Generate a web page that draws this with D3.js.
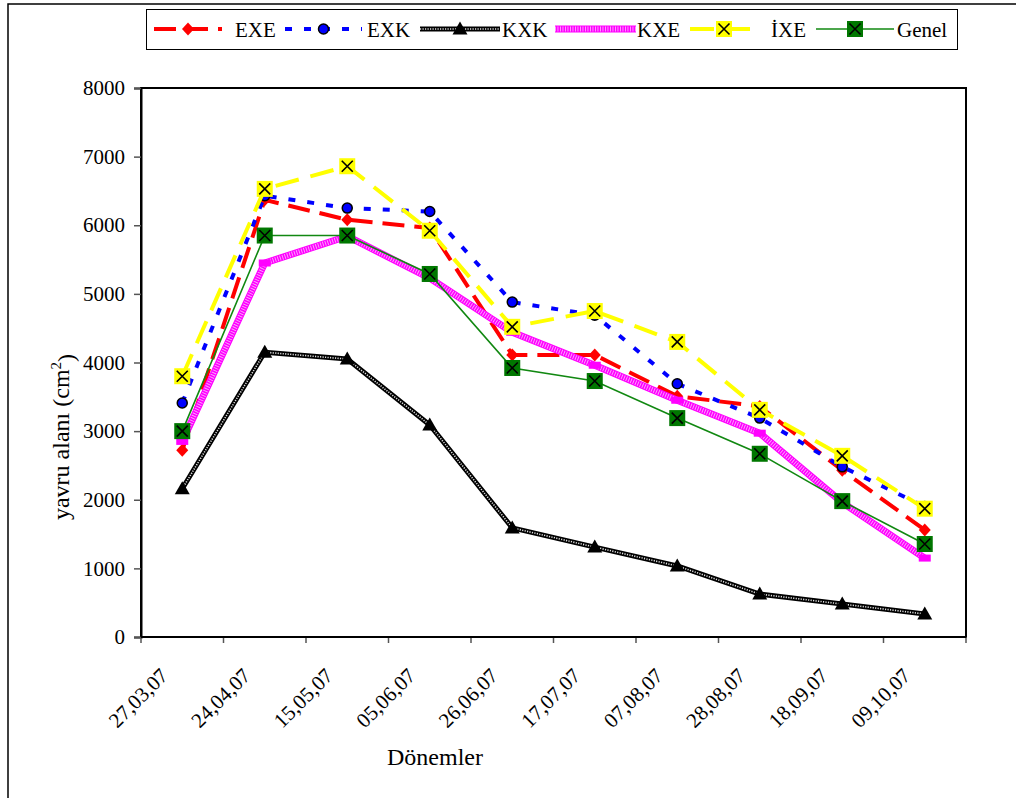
<!DOCTYPE html>
<html>
<head>
<meta charset="utf-8">
<script src="https://cdn.jsdelivr.net/npm/d3@7"></script>
<style>
  body { margin: 0; background: #fff; }
  svg { display: block; }
  text { font-family: "Liberation Serif", "Times New Roman", serif; fill: #000; }
</style>
</head>
<body>
<svg id="chart" width="1016" height="798"></svg>
<script>
// Sampling periods (dd,mm,yy)
const periods = ["27,03,07", "24,04,07", "15,05,07", "05,06,07", "26,06,07",
                 "17,07,07", "07,08,07", "28,08,07", "18,09,07", "09,10,07"];

// Brood area (cm²) per group
const exe   = [2720, 6370, 6080, 5960, 4110, 4110, 3510, 3360, 2430, 1560];
const exk   = [3410, 6430, 6250, 6200, 4880, 4690, 3690, 3190, 2480, 1900];
const kxk   = [2160, 4150, 4050, 3090, 1590, 1310, 1035,  625,  480,  335];
const kxe   = [2850, 5450, 5840, 5230, 4440, 3960, 3450, 2970, 1960, 1150];
const ixe   = [3800, 6530, 6860, 5920, 4520, 4750, 4300, 3310, 2640, 1870];
const genel = [3000, 5850, 5850, 5290, 3920, 3730, 3190, 2670, 1980, 1355];

const seriesNames = ["EXE", "EXK", "KXK", "KXE", "İXE", "Genel"];
const yTicks = [0, 1000, 2000, 3000, 4000, 5000, 6000, 7000, 8000];

const svg = d3.select("#chart");

// outer chart frame (only top and left edges fall inside the page)
svg.append("path")
  .attr("d", "M8,798 L8,4 L1016,4")
  .attr("fill", "none").attr("stroke", "#000").attr("stroke-width", 1.5);

const plot = { left: 141, right: 966, top: 88, bottom: 637 };

const x = d3.scaleBand().domain(periods).range([plot.left, plot.right]).padding(0);
const y = d3.scaleLinear().domain([0, 8000]).range([plot.bottom, plot.top]);
const cx = d => x(d) + x.bandwidth() / 2;

// plot frame
svg.append("rect")
  .attr("x", plot.left).attr("y", plot.top)
  .attr("width", plot.right - plot.left).attr("height", plot.bottom - plot.top)
  .attr("fill", "#fff").attr("stroke", "#000").attr("stroke-width", 2);

// y axis
const yAxis = svg.append("g")
  .attr("transform", `translate(${plot.left},0)`)
  .call(d3.axisLeft(y).tickValues(yTicks).tickSize(7).tickPadding(9).tickFormat(d3.format("d")));
yAxis.select(".domain").attr("stroke", "#000").attr("stroke-width", 2);
yAxis.selectAll(".tick line").attr("stroke", "#555").attr("stroke-width", 1.5);
yAxis.selectAll(".tick text")
  .style("font-family", '"Liberation Serif", "Times New Roman", serif')
  .style("font-size", "21px").attr("fill", "#000");

// x axis: ticks on category boundaries, labels centred under categories
const boundaries = periods.map(p => x(p)).concat([plot.right]);
svg.append("g").selectAll("line").data(boundaries).join("line")
  .attr("x1", d => d).attr("x2", d => d)
  .attr("y1", plot.bottom).attr("y2", plot.bottom + 6)
  .attr("stroke", "#555").attr("stroke-width", 1.5);
svg.append("line")
  .attr("x1", plot.left).attr("x2", plot.right)
  .attr("y1", plot.bottom).attr("y2", plot.bottom)
  .attr("stroke", "#000").attr("stroke-width", 2);

svg.append("g").selectAll("text").data(periods).join("text")
  .attr("transform", d => `translate(${cx(d) - 13},${plot.bottom + 40}) rotate(-45)`)
  .attr("text-anchor", "end")
  .style("font-size", "21px")
  .text(d => d);

// axis titles
svg.append("text")
  .attr("x", 435).attr("y", 765)
  .attr("text-anchor", "middle")
  .style("font-size", "24px")
  .text("Dönemler");

const yTitle = svg.append("text")
  .attr("transform", "translate(69,437) rotate(-90)")
  .attr("text-anchor", "middle")
  .style("font-size", "24px");
yTitle.append("tspan").text("yavru alanı (cm");
yTitle.append("tspan").attr("dy", "-0.55em").style("font-size", "15px").text("2");
yTitle.append("tspan").attr("dy", "0.55em").text(")");

// marker painters
const markers = {
  diamond: (g, color) => g.append("path").attr("d", "M0,-6.5L6,0L0,6.5L-6,0Z").attr("fill", color),
  circle: (g, color) => g.append("circle").attr("r", 5).attr("fill", color)
                          .attr("stroke", "#000").attr("stroke-width", 1.5),
  triangle: (g, color) => g.append("path").attr("d", "M0,-7.5L7.5,5.5L-7.5,5.5Z").attr("fill", color),
  dash: (g, color) => g.append("rect").attr("x", -6).attr("y", -3.5).attr("width", 12).attr("height", 7).attr("fill", color),
  xbox: (g, color) => {
    g.append("rect").attr("x", -8).attr("y", -8).attr("width", 16).attr("height", 16).attr("fill", color);
    g.append("path").attr("d", "M-5.5,-5.5L5.5,5.5M5.5,-5.5L-5.5,5.5")
      .attr("stroke", "#000").attr("stroke-width", 1.6);
  }
};

// line painters: some groups use a hatched (textured) stroke
function strokeLine(g, d, s) {
  if (s.hatch === "black") {
    g.append("path").attr("d", d).attr("fill", "none")
      .attr("stroke", "#000").attr("stroke-width", 5).attr("stroke-linejoin", "round");
    g.append("path").attr("d", d).attr("fill", "none")
      .attr("stroke", "#ddd").attr("stroke-width", 1.6).attr("stroke-dasharray", "1.2,1.3");
  } else if (s.hatch === "magenta") {
    g.append("path").attr("d", d).attr("fill", "none")
      .attr("stroke", "#ff00ff").attr("stroke-width", 7).attr("stroke-linejoin", "round");
    g.append("path").attr("d", d).attr("fill", "none")
      .attr("stroke", "#fff").attr("stroke-opacity", 0.65).attr("stroke-width", 5)
      .attr("stroke-dasharray", "0.9,1.6");
  } else {
    g.append("path").attr("d", d).attr("fill", "none")
      .attr("stroke", s.color).attr("stroke-width", s.width)
      .attr("stroke-dasharray", s.dash || null);
  }
}

const series = [
  { name: seriesNames[0], values: exe,   color: "#ff0000", width: 4,   dash: "22,10", marker: "diamond",  mcolor: "#ff0000" },
  { name: seriesNames[1], values: exk,   color: "#0000ff", width: 4,   dash: "7,12",  marker: "circle",   mcolor: "#0000ff" },
  { name: seriesNames[2], values: kxk,   color: "#000",    hatch: "black",          marker: "triangle", mcolor: "#000" },
  { name: seriesNames[3], values: kxe,   color: "#ff00ff", hatch: "magenta",        marker: "dash",     mcolor: "#ff00ff" },
  { name: seriesNames[4], values: ixe,   color: "#ffff00", width: 4,   dash: "24,12", marker: "xbox",     mcolor: "#ffff00" },
  { name: seriesNames[5], values: genel, color: "#118811", width: 1.6,              marker: "xbox",     mcolor: "#007700" }
];

const line = d3.line().x((v, i) => cx(periods[i])).y(v => y(v));

series.forEach(s => {
  const g = svg.append("g").attr("class", "series");
  strokeLine(g, line(s.values), s);
  s.values.forEach((v, i) => {
    const m = g.append("g").attr("transform", `translate(${cx(periods[i])},${y(v)})`);
    markers[s.marker](m, s.mcolor);
  });
});

// legend
const legend = svg.append("g");
legend.append("rect")
  .attr("x", 146.5).attr("y", 9.5).attr("width", 811).attr("height", 40)
  .attr("fill", "#fff").attr("stroke", "#000").attr("stroke-width", 1);

const legendSlots = [154, 285, 420, 555, 690, 816];
const legendTextX = [235, 367, 502, 637, 771, 897];
const legendLen = [68, 77, 80, 81, 68, 78];
series.forEach((s, i) => {
  const g = legend.append("g");
  const x0 = legendSlots[i], x1 = x0 + legendLen[i], ly = 29;
  strokeLine(g, `M${x0},${ly}L${x1},${ly}`, s);
  if (s.marker !== "dash") {
    const m = g.append("g").attr("transform", `translate(${(x0 + x1) / 2},${ly})`);
    markers[s.marker](m, s.mcolor);
  }
  g.append("text")
    .attr("x", legendTextX[i]).attr("y", ly + 7.5)
    .style("font-size", "21px")
    .text(s.name);
});
</script>
</body>
</html>
